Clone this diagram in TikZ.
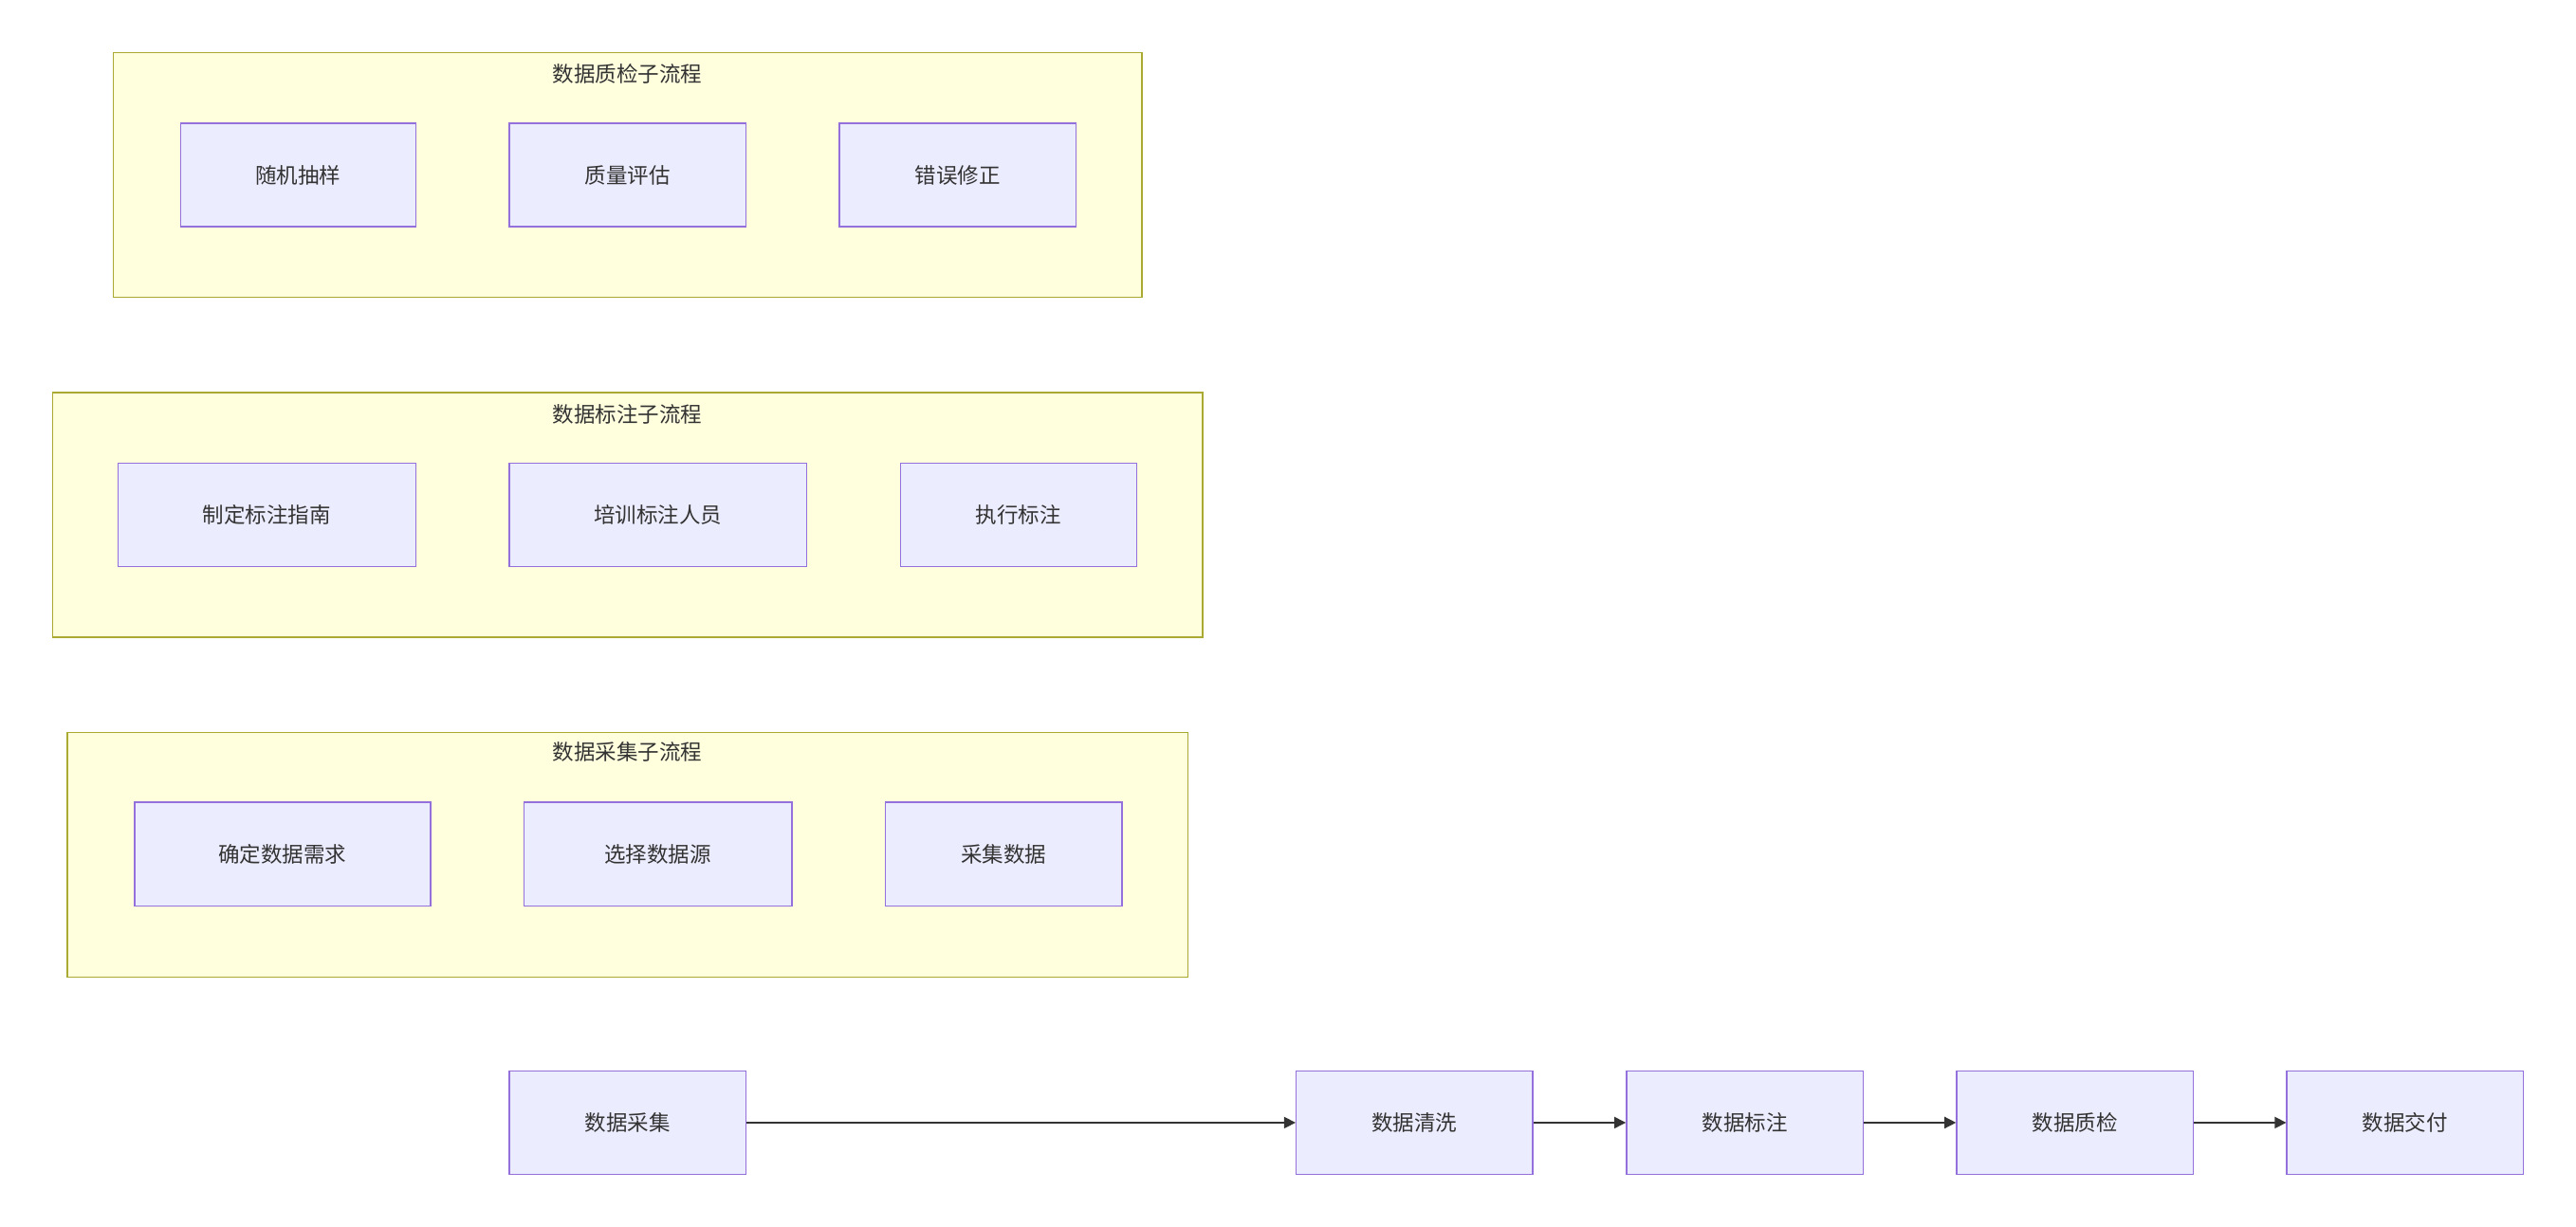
\documentclass[tikz,border=0pt]{standalone}
\usepackage{fontspec}
\newfontfamily\cjk{Noto Sans CJK SC}
\usetikzlibrary{arrows.meta}
\definecolor{nfill}{HTML}{ECECFF}
\definecolor{nline}{HTML}{9370DB}
\definecolor{cfill}{HTML}{FFFFDE}
\definecolor{cline}{HTML}{AAAA33}
\definecolor{txt}{HTML}{333333}
\begin{document}
\begin{tikzpicture}[x=1pt,y=-1pt,
  box/.style={draw=nline,fill=nfill,line width=0.8pt,minimum height=63pt,inner sep=0pt,font=\cjk\fontsize{13}{13}\selectfont,text=txt},
  clu/.style={draw=cline,fill=cfill,line width=0.8pt},
  ttl/.style={font=\cjk\fontsize{13}{13}\selectfont,text=txt},
  arr/.style={draw=txt,line width=0.8pt,-{Triangle[length=7pt,width=7pt]}}]
\useasboundingbox (0,0) rectangle (1568,747);
% clusters
\draw[clu] (69,32) rectangle (695,181);
\node[ttl] (t1) at (382,45) {数据质检子流程};
\draw[clu] (32,239) rectangle (732,388);
\node[ttl] (t2) at (382,252) {数据标注子流程};
\draw[clu] (41,446) rectangle (723,595);
\node[ttl] (t3) at (382,458) {数据采集子流程};
% cluster nodes
\node[box,minimum width=143pt] (q1) at (181.5,106.5) {随机抽样};
\node[box,minimum width=144pt] (q2) at (382,106.5) {质量评估};
\node[box,minimum width=144pt] (q3) at (583,106.5) {错误修正};
\node[box,minimum width=181pt] (l1) at (162.5,313.5) {制定标注指南};
\node[box,minimum width=181pt] (l2) at (400.5,313.5) {培训标注人员};
\node[box,minimum width=144pt] (l3) at (620,313.5) {执行标注};
\node[box,minimum width=180pt] (c1) at (172,520) {确定数据需求};
\node[box,minimum width=163pt] (c2) at (400.5,520) {选择数据源};
\node[box,minimum width=144pt] (c3) at (611,520) {采集数据};
% main flow
\node[box,minimum width=144pt] (m1) at (382,683.5) {数据采集};
\node[box,minimum width=144pt] (m2) at (861,683.5) {数据清洗};
\node[box,minimum width=144pt] (m3) at (1062,683.5) {数据标注};
\node[box,minimum width=144pt] (m4) at (1263,683.5) {数据质检};
\node[box,minimum width=144pt] (m5) at (1464,683.5) {数据交付};
\draw[arr] (m1) -- (m2);
\draw[arr] (m2) -- (m3);
\draw[arr] (m3) -- (m4);
\draw[arr] (m4) -- (m5);
\end{tikzpicture}
\end{document}
